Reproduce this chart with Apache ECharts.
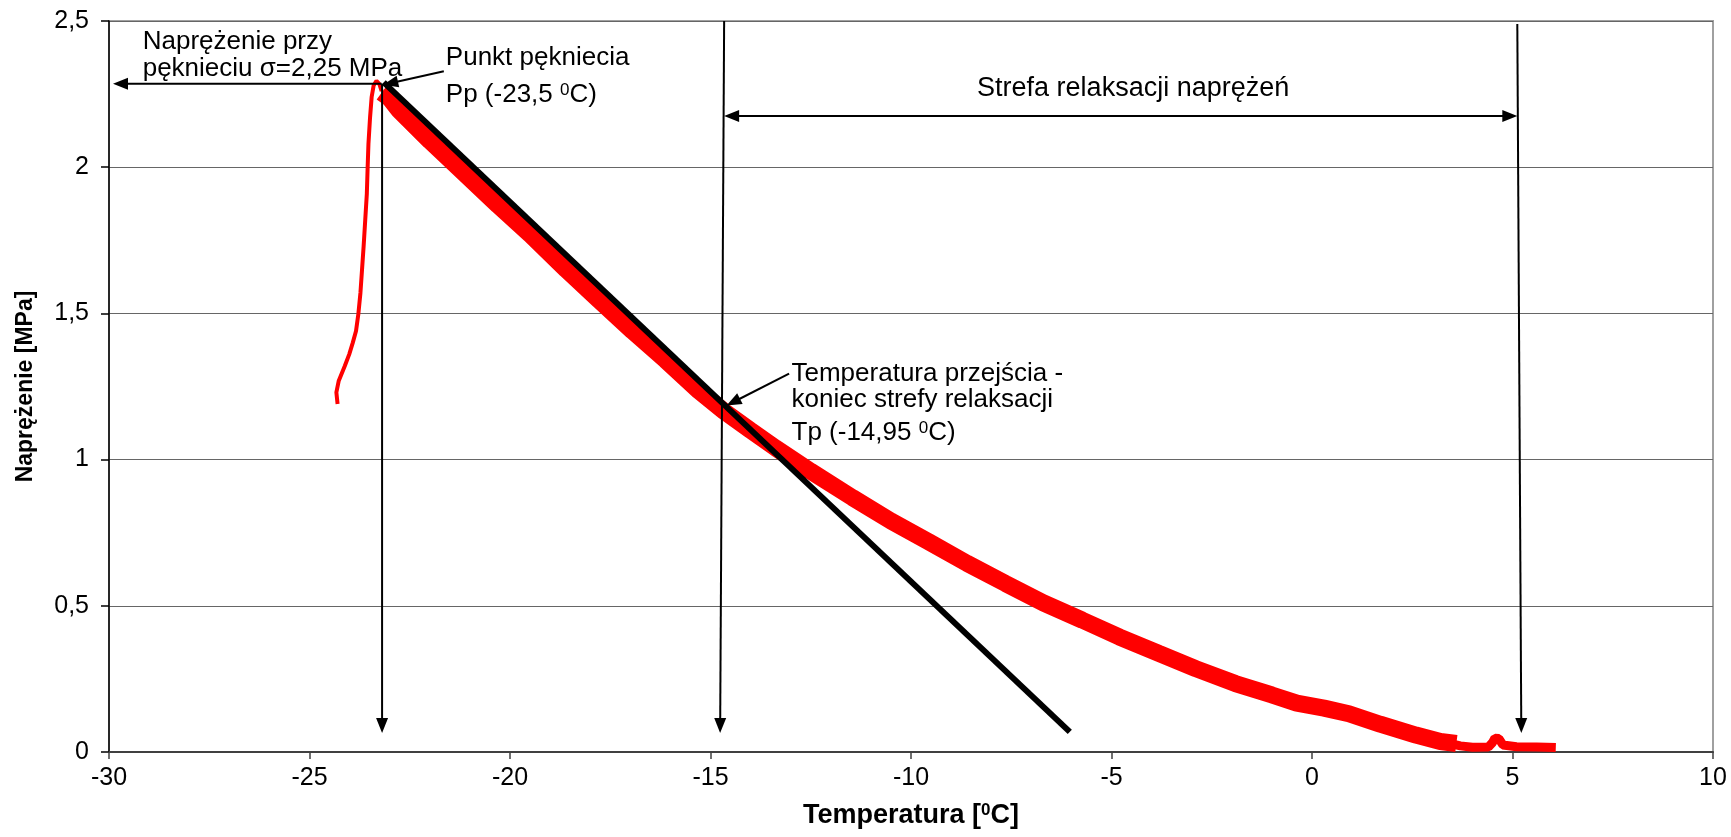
<!DOCTYPE html>
<html><head><meta charset="utf-8">
<script src="https://cdn.jsdelivr.net/npm/echarts@6.0.0/dist/echarts.min.js"></script>
<style>html,body{margin:0;padding:0;background:#fff}#c{width:1731px;height:837px}</style>
</head><body><div id="c"></div>
<script>
// ---- data (temperature [°C], stress [MPa]) ----
const xTicks = [-30, -25, -20, -15, -10, -5, 0, 5, 10];
const yTicks = [0, 0.5, 1, 1.5, 2, 2.5];
const riseCurve = [[-24.30,1.19],[-24.33,1.23],[-24.27,1.27],[-24.12,1.32],[-24.01,1.36],[-23.92,1.40],[-23.84,1.44],[-23.78,1.50],[-23.73,1.57],[-23.69,1.65],[-23.65,1.73],[-23.61,1.82],[-23.57,1.91],[-23.55,2.00],[-23.53,2.08],[-23.49,2.17],[-23.45,2.24],[-23.40,2.28],[-23.33,2.295],[-23.26,2.285],[-23.20,2.26]];
const relaxBand = [[-23.2,2.255],[-23.0,2.235],[-22.77,2.195],[-22.0,2.09],[-21.11,1.975],[-20.3,1.87],[-19.5,1.77],[-18.6,1.65],[-17.78,1.545],[-16.95,1.44],[-16.12,1.34],[-15.29,1.235],[-14.66,1.165],[-14.0,1.10],[-13.38,1.04],[-12.5,0.96],[-11.46,0.87],[-10.5,0.79],[-9.56,0.719],[-8.6,0.645],[-7.64,0.576],[-6.7,0.51],[-5.73,0.451],[-4.8,0.393],[-3.82,0.337],[-2.9,0.285],[-1.91,0.234],[-1.0,0.195],[-0.38,0.167],[0.3,0.15],[0.92,0.131],[1.7,0.095],[2.59,0.058],[3.2,0.036],[3.6,0.029]];
const tailCurve = [[3.4,0.03],[3.7,0.021],[4.0,0.016],[4.4,0.017],[4.5,0.032],[4.56,0.047],[4.66,0.046],[4.76,0.024],[5.1,0.018],[5.6,0.017],[6.08,0.015]];
const tangentLine = [[-23.15,2.29],[-6.04,0.069]];

// ---- annotations (data coordinates) ----
const arrowDefs = [
  {from:[-23.2,2.285], to:[-29.9,2.285]},
  {from:[-23.19,2.285], to:[-23.19,0.065]},
  {from:[-14.66,2.5], to:[-14.76,0.065]},
  {from:[5.12,2.49], to:[5.22,0.065]},
  {from:[-14.66,2.175], to:[5.12,2.175], both:true},
  {from:[-21.65,2.328], to:[-23.16,2.282]},
  {from:[-13.04,1.294], to:[-14.6,1.185]}
];
const textDefs = [
  {at:[-29.16,2.43], text:'Naprężenie przy', size:26},
  {at:[-29.16,2.336], text:'pęknieciu σ=2,25 MPa', size:26},
  {at:[-21.6,2.374], text:'Punkt pękniecia', size:26},
  {at:[-21.6,2.249], text:'Pp (-23,5 {sup|0}C)', size:26},
  {at:[-4.46,2.268], text:'Strefa relaksacji naprężeń', align:'center', size:27},
  {at:[-12.98,1.295], text:'Temperatura przejścia -', size:26},
  {at:[-12.98,1.204], text:'koniec strefy relaksacji', size:26},
  {at:[-12.98,1.091], text:'Tp (-14,95 {sup|0}C)', size:26}
];

const FONT = 'Liberation Sans, Arial, sans-serif';
const chart = echarts.init(document.getElementById('c'), null, {renderer:'canvas'});

const option = {
  animation: false,
  backgroundColor: '#fff',
  textStyle: {fontFamily: FONT},
  grid: {left:109, right:18, top:21, bottom:85, show:true, borderColor:'#a0a0a0', borderWidth:2, backgroundColor:'#fff'},
  xAxis: {
    type:'value', min:xTicks[0], max:xTicks[xTicks.length-1], interval:xTicks[1]-xTicks[0],
    axisLine:{show:true, onZero:false, lineStyle:{color:'#404040', width:2}},
    axisTick:{show:true, length:7, lineStyle:{color:'#404040', width:1.5}},
    axisLabel:{fontSize:25, color:'#000', margin:14, fontFamily:FONT},
    splitLine:{show:false},
    name:'Temperatura [{sup|0}C]', nameLocation:'middle', nameGap:50,
    nameTextStyle:{fontSize:27, fontWeight:'bold', color:'#000', fontFamily:FONT,
      rich:{sup:{fontSize:17, fontWeight:'bold', fontFamily:FONT, color:'#000', verticalAlign:'top'}}}
  },
  yAxis: {
    type:'value', min:yTicks[0], max:yTicks[yTicks.length-1], interval:yTicks[1]-yTicks[0],
    axisLine:{show:true, onZero:false, lineStyle:{color:'#000', width:1.5}},
    axisTick:{show:true, length:8, lineStyle:{color:'#000', width:1.5}},
    axisLabel:{fontSize:25, color:'#000', margin:20, fontFamily:FONT, formatter:v=>String(v).replace('.',',')},
    splitLine:{show:true, lineStyle:{color:'#666', width:1}},
    name:'Naprężenie [MPa]', nameLocation:'middle', nameGap:72,
    nameTextStyle:{fontSize:23, fontWeight:'bold', color:'#000', fontFamily:FONT}
  },
  series: [
    {type:'line', data:riseCurve, showSymbol:false, symbol:'none', lineStyle:{color:'#ff0000', width:4}, z:3},
    {type:'line', data:relaxBand, showSymbol:false, symbol:'none', lineStyle:{color:'#ff0000', width:17}, z:3},
    {type:'line', data:tailCurve, showSymbol:false, symbol:'none', lineStyle:{color:'#ff0000', width:9}, z:3},
    {type:'line', data:tangentLine, showSymbol:false, symbol:'none', lineStyle:{color:'#000', width:6}, z:4}
  ]
};
chart.setOption(option);

function px(p){ return chart.convertToPixel({gridIndex:0}, p); }
const graphics = [];
const HL = 15, HW = 6;
function head(tip, from){
  const dx = tip[0]-from[0], dy = tip[1]-from[1];
  const L = Math.hypot(dx,dy); const ux = dx/L, uy = dy/L;
  const bx = tip[0]-ux*HL, by = tip[1]-uy*HL;
  graphics.push({type:'polygon', z:100, shape:{points:[[tip[0],tip[1]],[bx-uy*HW,by+ux*HW],[bx+uy*HW,by-ux*HW]]}, style:{fill:'#000'}});
  return [tip[0]-ux*HL*0.7, tip[1]-uy*HL*0.7];
}
arrowDefs.forEach(a=>{
  let p1 = px(a.from), p2 = px(a.to);
  let e2 = head(p2, p1);
  let e1 = a.both ? head(p1, p2) : p1;
  graphics.push({type:'line', z:99, shape:{x1:e1[0], y1:e1[1], x2:e2[0], y2:e2[1]}, style:{stroke:'#000', lineWidth:2}});
});
textDefs.forEach(t=>{
  const p = px(t.at);
  graphics.push({type:'text', z:101, x:p[0], y:p[1], style:{
    text:t.text, fontSize:t.size, fontFamily:FONT, fill:'#000',
    align:t.align||'left', verticalAlign:'middle',
    rich:{sup:{fontSize:17, fontFamily:FONT, fill:'#000', verticalAlign:'top'}}
  }});
});
chart.setOption({graphic: graphics});
</script></body></html>
